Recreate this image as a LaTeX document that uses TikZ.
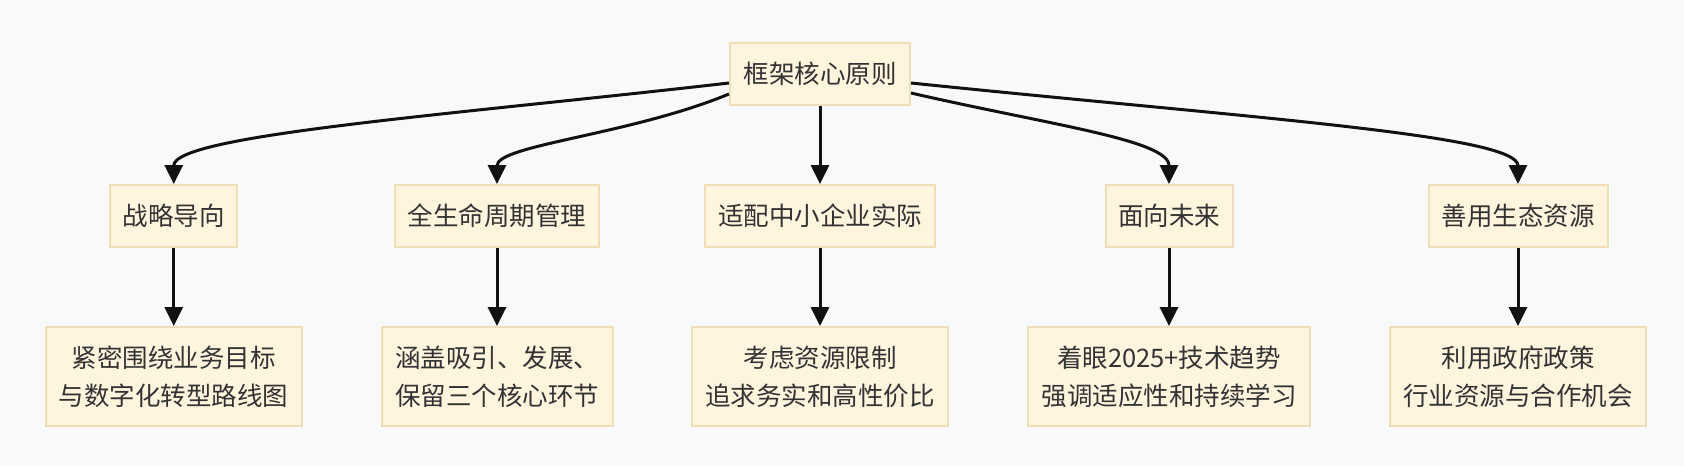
\documentclass[tikz,border=0pt]{standalone}
\usepackage{fontspec}
\setmainfont{Noto Sans CJK SC}
\usetikzlibrary{arrows.meta}
\definecolor{bgc}{RGB}{248,249,251}
\definecolor{boxfill}{RGB}{255,244,221}
\definecolor{boxline}{RGB}{240,222,182}
\definecolor{txt}{RGB}{51,51,51}
\definecolor{arr}{RGB}{17,17,17}
\tikzset{
  card/.style={draw=boxline, fill=boxfill, line width=2pt, text=txt, align=center,
    inner sep=0pt, font=\fontsize{25.5}{38}\selectfont, minimum height=62pt},
  cardtall/.style={card, minimum height=99pt},
  link/.style={draw=arr, line width=3pt, -{Triangle[length=19pt,width=18pt]}},
}
\begin{document}
\begin{tikzpicture}[x=1pt,y=-1pt]
\fill[bgc] (0,0) rectangle (1684,466);
\useasboundingbox (0,0) rectangle (1684,466);
\node[card, minimum width=180pt] (top) at (820,74) {框架核心原则};
\node[card, minimum width=127pt] (a) at (173.7,216) {战略导向};
\node[card, minimum width=204pt] (b) at (497,216) {全生命周期管理};
\node[card, minimum width=230pt] (c) at (820,216) {适配中小企业实际};
\node[card, minimum width=127pt] (d) at (1169,216) {面向未来};
\node[card, minimum width=179pt] (e) at (1518,216) {善用生态资源};
\node[cardtall, minimum width=256pt] (a2) at (173.7,376.5) {紧密围绕业务目标\\与数字化转型路线图};
\node[cardtall, minimum width=231pt] (b2) at (497,376.5) {涵盖吸引、发展、\\保留三个核心环节};
\node[cardtall, minimum width=256pt] (c2) at (820,376.5) {考虑资源限制\\追求务实和高性价比};
\node[cardtall, minimum width=282pt] (d2) at (1169,376.5) {着眼2025+技术趋势\\强调适应性和持续学习};
\node[cardtall, minimum width=256pt] (e2) at (1518,376.5) {利用政府政策\\行业资源与合作机会};
\draw[link] ([yshift=-9pt]top.west) .. controls (450,115) and (173.7,135) .. (a.north);
\draw[link] ([yshift=-20pt]top.west) .. controls (630,135) and (497,145) .. (b.north);
\draw[link] (top.south) -- (c.north);
\draw[link] ([yshift=-19pt]top.east) .. controls (1050,125) and (1169,140) .. (d.north);
\draw[link] ([yshift=-9pt]top.east) .. controls (1250,118) and (1518,135) .. (e.north);
\draw[link] (a.south) -- (a2.north);
\draw[link] (b.south) -- (b2.north);
\draw[link] (c.south) -- (c2.north);
\draw[link] (d.south) -- (d2.north);
\draw[link] (e.south) -- (e2.north);
\end{tikzpicture}
\end{document}
